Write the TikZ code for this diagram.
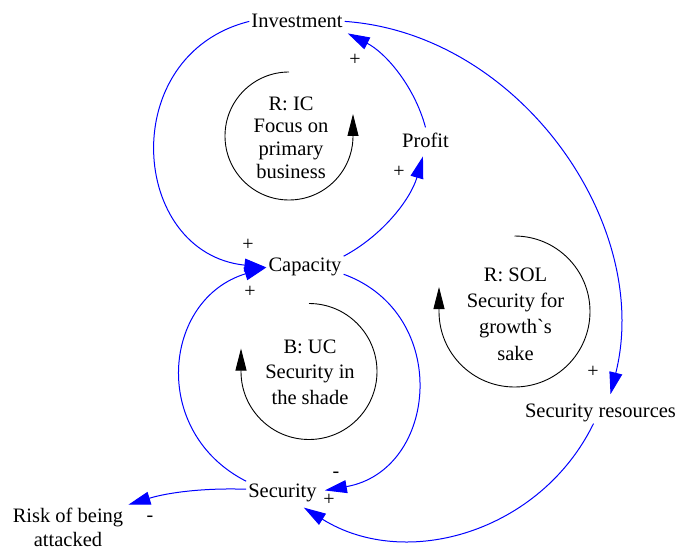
\documentclass[tikz,border=0pt]{standalone}
\usepackage{fontspec}
\setmainfont{Liberation Serif}
% plain family without TeX ligatures, so that ` stays a grave mark
\newfontfamily\rawserif{Liberation Serif}
\usetikzlibrary{arrows.meta}
\begin{document}
\begin{tikzpicture}[x=1pt,y=1pt,
  var/.style={inner sep=2pt, font=\fontsize{20.5}{24}\selectfont},
  looplabel/.style={align=center, inner sep=0pt},
  sign/.style={inner sep=0pt, font=\fontsize{20}{24}\selectfont},
  link/.style={draw=blue, line width=1pt, -{Triangle[length=22pt,width=13pt]}},
  loopmark/.style={draw=black, line width=0.9pt, -{Triangle[length=22pt,width=11pt]}}
]
\useasboundingbox (0,0) rectangle (678,550);
\fill[white] (0,0) rectangle (678,550);

% variables
\node[var, anchor=base] (inv)    at (297,522)   {Investment};
\node[var, anchor=base] (profit) at (425.5,402) {Profit};
\node[var, anchor=base] (cap)    at (305,278)   {Capacity};
\node[var, anchor=base] (sec)    at (282.5,53)  {Security};
\node[var, anchor=base] (secres) at (600.5,133) {Security resources};
\node[var, align=center] (risk)  at (68,22.85)  {Risk of being\\attacked};

% loop labels
\node[looplabel, font=\fontsize{20.5}{22.7}\selectfont] (iclab)  at (291,412.6)
  {R: IC\\Focus on\\primary\\business};
\node[looplabel, font=\fontsize{20.5}{26.1}\selectfont] (sollab) at (515.5,235.8)
  {R: SOL\\Security for\\growth{\rawserif`}s\\sake};
\node[looplabel, font=\fontsize{20.5}{25.4}\selectfont] (uclab)  at (310,178)
  {B: UC\\Security in\\the shade};

% loop direction markers
\coordinate (icc)  at (289,414);
\coordinate (ucc)  at (309,178.5);
\coordinate (solc) at (514.5,238.5);
\draw[loopmark] ([yshift=64pt]icc) arc[start angle=90, end angle=360, radius=64] -- ++(0,22);
\draw[loopmark] ([yshift=68pt]ucc) arc[start angle=90, end angle=-180, radius=68] -- ++(0,23);
\draw[loopmark] ([yshift=75.5pt]solc) arc[start angle=90, end angle=-180, radius=75.5] -- ++(0,24.5);

% causal links
\draw[link] (inv.west) to[out=194, in=174, looseness=1.43] (cap.west);
\draw[link] (sec.north west) to[out=153, in=197, looseness=1.29] (cap.west);
\draw[link] (cap.north east) to[out=28, in=254, looseness=0.89] ([yshift=-6pt]profit.255);
\draw[link] ([yshift=4pt]profit.north) to[out=105, in=-27, looseness=0.89] ([shift={(3pt,-3pt)}]inv.south east);
\draw[link] (inv.east) to[out=-4, in=76, looseness=0.98] ([shift={(10pt,7pt)}]secres.north);
\draw[link] (cap.-10) to[out=-20, in=10, looseness=1.36] ([shift={(6pt,2pt)}]sec.east);
\draw[link] (sec.175) to[out=178, in=17, looseness=0.9] ([shift={(3pt,1pt)}]risk.north east);
\draw[link] ([xshift=-7pt]secres.south) to[out=-116, in=-32, looseness=1.02] ([shift={(-15pt,-4pt)}]sec.south east);

% polarities
\node[sign] (p1) at (355,490) {+};
\node[sign] (p2) at (399,378) {+};
\node[sign] (p3) at (248,305) {+};
\node[sign] (p4) at (250,258) {+};
\node[sign] (p5) at (336,75)  {-};
\node[sign] (p6) at (329,50)  {+};
\node[sign] (p7) at (150,31)  {-};
\node[sign] (p8) at (593,178) {+};
\end{tikzpicture}
\end{document}
